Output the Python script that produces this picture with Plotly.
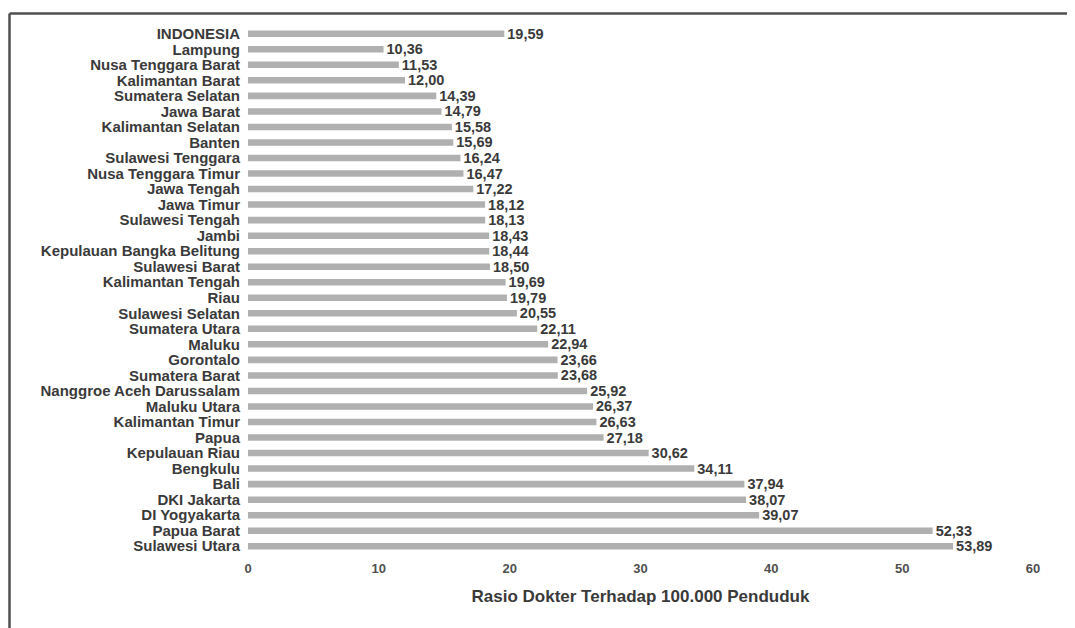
import plotly.graph_objects as go

provinces = [
    "INDONESIA", "Lampung", "Nusa Tenggara Barat", "Kalimantan Barat", "Sumatera Selatan",
    "Jawa Barat", "Kalimantan Selatan", "Banten", "Sulawesi Tenggara", "Nusa Tenggara Timur",
    "Jawa Tengah", "Jawa Timur", "Sulawesi Tengah", "Jambi", "Kepulauan Bangka Belitung",
    "Sulawesi Barat", "Kalimantan Tengah", "Riau", "Sulawesi Selatan", "Sumatera Utara",
    "Maluku", "Gorontalo", "Sumatera Barat", "Nanggroe Aceh Darussalam", "Maluku Utara",
    "Kalimantan Timur", "Papua", "Kepulauan Riau", "Bengkulu", "Bali",
    "DKI Jakarta", "DI Yogyakarta", "Papua Barat", "Sulawesi Utara",
]
ratios = [
    19.59, 10.36, 11.53, 12.00, 14.39,
    14.79, 15.58, 15.69, 16.24, 16.47,
    17.22, 18.12, 18.13, 18.43, 18.44,
    18.50, 19.69, 19.79, 20.55, 22.11,
    22.94, 23.66, 23.68, 25.92, 26.37,
    26.63, 27.18, 30.62, 34.11, 37.94,
    38.07, 39.07, 52.33, 53.89,
]
x_ticks = [0, 10, 20, 30, 40, 50, 60]
x_title = "Rasio Dokter Terhadap 100.000 Penduduk"

labels = [f"{v:.2f}".replace(".", ",") for v in ratios]

# page body has an 8px margin; target positions are page pixels
OFF = 8
W, H = 1075, 628
plot_left, plot_right, plot_top, plot_bottom = 248, 1033, 26, 554
L = plot_left - OFF
R = W - (plot_right - OFF)
T = plot_top - OFF
B = H - (plot_bottom - OFF)
pw = W - L - R
ph = H - T - B

fig = go.Figure(go.Bar(
    x=ratios, y=provinces, orientation="h",
    marker=dict(color="#b0b0b0", line=dict(width=0)),
    width=0.42,
    text=labels, textposition="outside", cliponaxis=False, constraintext="none",
    textfont=dict(family="Liberation Sans", size=14.5, color="#3a3a3a", weight="bold"),
))

def px_x(p):
    return (p - plot_left) / pw

def px_y(p):
    return (plot_bottom - p) / ph

fig.add_shape(type="line", xref="paper", yref="paper",
              x0=px_x(9.5), x1=px_x(1100), y0=px_y(13.5), y1=px_y(13.5),
              line=dict(color="#505050", width=2.5))
fig.add_shape(type="line", xref="paper", yref="paper",
              x0=px_x(9.5), x1=px_x(9.5), y0=px_y(13.5), y1=px_y(700),
              line=dict(color="#505050", width=2.5))

fig.update_layout(
    width=W, height=H,
    margin=dict(l=L, r=R, t=T, b=B, pad=0),
    paper_bgcolor="white", plot_bgcolor="white",
    showlegend=False,
    font=dict(family="Liberation Sans", color="#3a3a3a"),
    xaxis=dict(
        range=[0, 60], tickvals=x_ticks, ticktext=[str(t) for t in x_ticks],
        showgrid=False, zeroline=False, showline=False,
        ticks="outside", ticklen=2, tickcolor="rgba(0,0,0,0)",
        tickfont=dict(family="Liberation Sans", size=13, color="#505050", weight="bold"),
        title=dict(text=x_title, standoff=15,
                   font=dict(family="Liberation Sans", size=17, color="#3a3a3a", weight="bold")),
    ),
    yaxis=dict(
        autorange="reversed", type="category",
        tickmode="array", tickvals=provinces, ticktext=provinces,
        showgrid=False, zeroline=False, showline=False,
        ticks="outside", ticklen=4, tickcolor="rgba(0,0,0,0)",
        tickfont=dict(family="Liberation Sans", size=15, color="#3a3a3a", weight="bold"),
    ),
)

fig.write_html("out.html")
